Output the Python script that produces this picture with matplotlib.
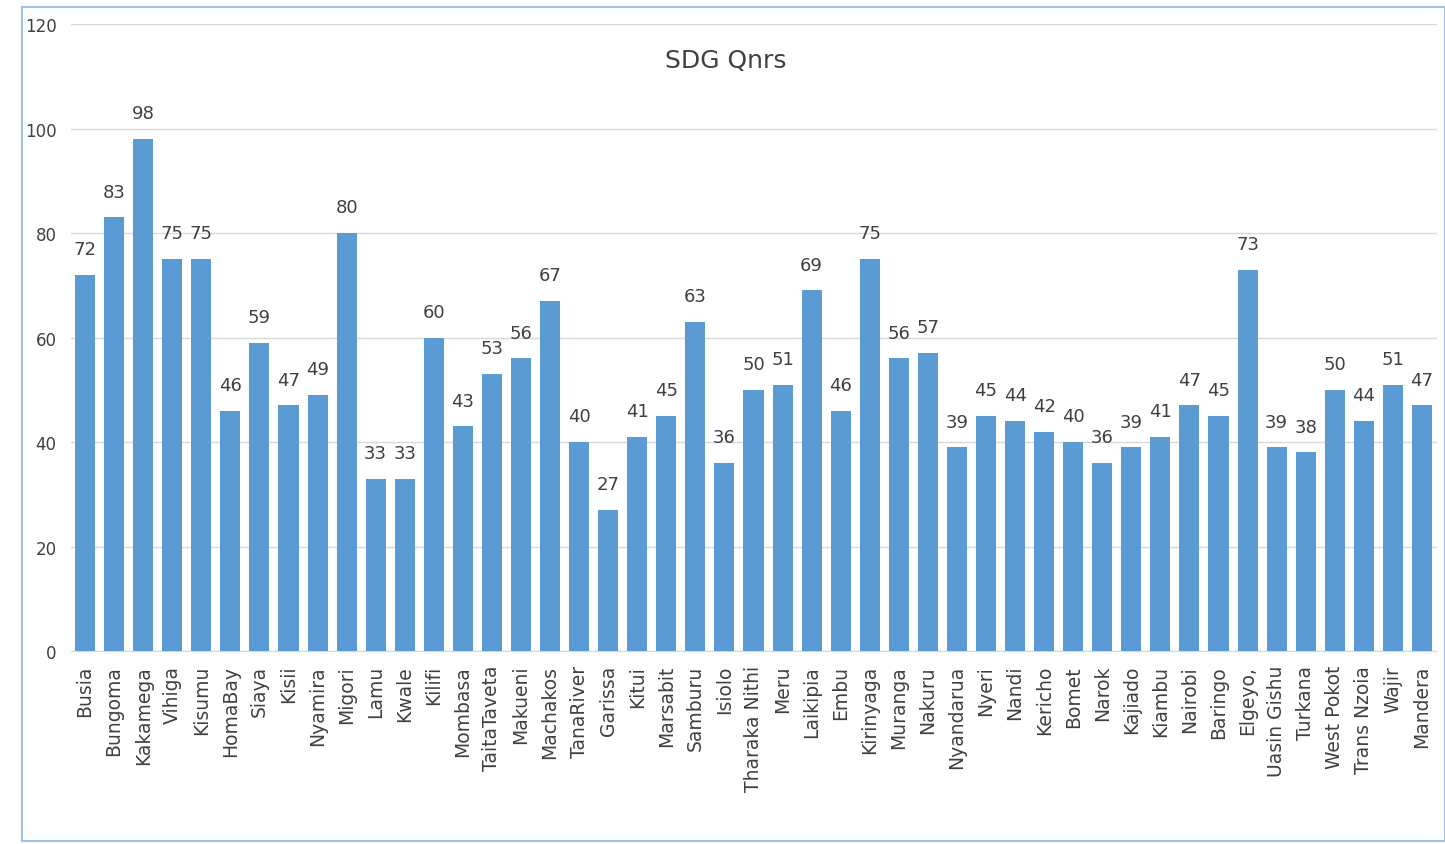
import matplotlib
matplotlib.use("Agg")
import matplotlib.pyplot as plt
from matplotlib.patches import Rectangle

counties = ["Busia", "Bungoma", "Kakamega", "Vihiga", "Kisumu", "HomaBay", "Siaya", "Kisii",
            "Nyamira", "Migori", "Lamu", "Kwale", "Kilifi", "Mombasa", "TaitaTaveta", "Makueni",
            "Machakos", "TanaRiver", "Garissa", "Kitui", "Marsabit", "Samburu", "Isiolo",
            "Tharaka Nithi", "Meru", "Laikipia", "Embu", "Kirinyaga", "Muranga", "Nakuru",
            "Nyandarua", "Nyeri", "Nandi", "Kericho", "Bomet", "Narok", "Kajiado", "Kiambu",
            "Nairobi", "Baringo", "Elgeyo,", "Uasin Gishu", "Turkana", "West Pokot",
            "Trans Nzoia", "Wajir", "Mandera"]
values = [72, 83, 98, 75, 75, 46, 59, 47, 49, 80, 33, 33, 60, 43, 53, 56, 67, 40, 27, 41,
          45, 63, 36, 50, 51, 69, 46, 75, 56, 57, 39, 45, 44, 42, 40, 36, 39, 41, 47, 45,
          73, 39, 38, 50, 44, 51, 47]
yticks = [0, 20, 40, 60, 80, 100, 120]
title = "SDG Qnrs"

fig = plt.figure(figsize=(14.45, 8.45), dpi=100)
ax = fig.add_axes([70.5 / 1445, 0.2284, (1436.5 - 70.5) / 1445, 0.742])

x = range(len(counties))
bars = ax.bar(x, values, width=0.69, color="#5B9BD5", zorder=3)
for xi, v in zip(x, values):
    ax.text(xi, v + 3.2, str(v), ha="center", va="bottom", fontsize=13, color="#404040")

ax.set_xlim(-0.5, len(counties) - 0.5)
ax.set_ylim(0, 120)
ax.set_yticks(yticks)
ax.set_yticklabels([str(t) for t in yticks], fontsize=12, color="#404040")
ax.set_xticks(list(x))
ax.set_xticklabels(counties, rotation=90, fontsize=13.5, color="#404040")
ax.tick_params(axis="both", length=0, pad=10)
ax.grid(axis="y", color="#D9D9D9", linewidth=1, zorder=0)
for s in ["top", "right", "left"]:
    ax.spines[s].set_visible(False)
ax.spines["bottom"].set_color("#D9D9D9")

fig.text(0.502, 0.928, title, ha="center", va="center", fontsize=18, color="#404040")

fig.patches.append(Rectangle((22 / 1445, 0.004), 1 - 22 / 1445, 1 - 8 / 845 - 0.004,
                             transform=fig.transFigure, fill=False,
                             edgecolor="#9DC3E6", linewidth=1.5))

fig.savefig("out.png", dpi=100)
